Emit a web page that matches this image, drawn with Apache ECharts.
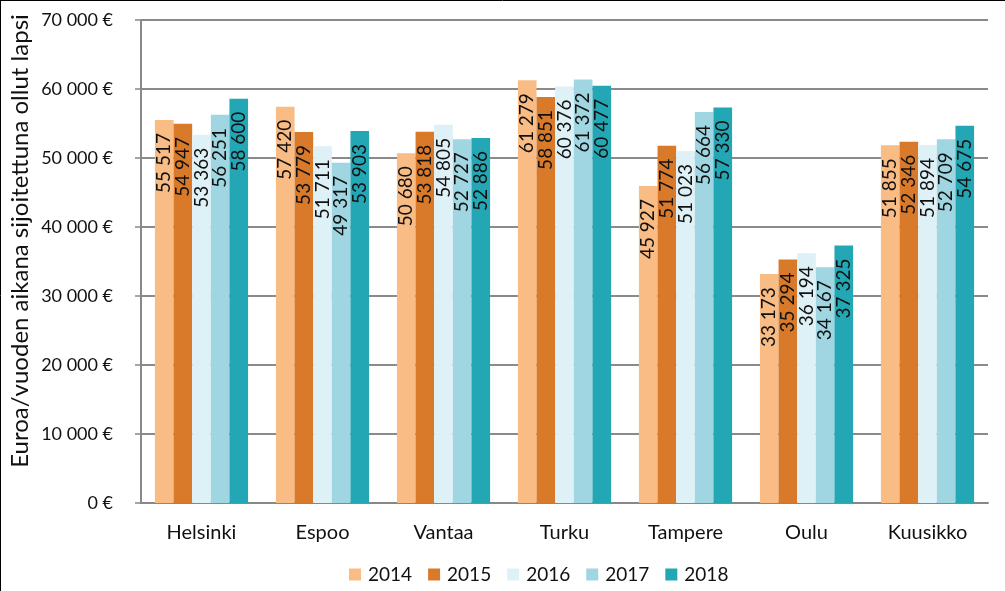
<!DOCTYPE html>
<html>
<head>
<meta charset="utf-8">
<script src="https://cdn.jsdelivr.net/npm/echarts@6/dist/echarts.min.js"></script>
<style>
html,body{margin:0;padding:0;background:#fff;}
#chart{width:1005px;height:591px;}
</style>
</head>
<body>
<div id="chart"></div>
<script>
const categories = ['Helsinki', 'Espoo', 'Vantaa', 'Turku', 'Tampere', 'Oulu', 'Kuusikko'];
const years = ['2014', '2015', '2016', '2017', '2018'];
const v2014 = [55517, 57420, 50680, 61279, 45927, 33173, 51855];
const v2015 = [54947, 53779, 53818, 58851, 51774, 35294, 52346];
const v2016 = [53363, 51711, 54805, 60376, 51023, 36194, 51894];
const v2017 = [56251, 49317, 52727, 61372, 56664, 34167, 52709];
const v2018 = [58600, 53903, 52886, 60477, 57330, 37325, 54675];
const yTicks = [0, 10000, 20000, 30000, 40000, 50000, 60000, 70000];
const yAxisTitle = 'Euroa/vuoden aikana sijoitettuna ollut lapsi';

const seriesValues = [v2014, v2015, v2016, v2017, v2018];
const colors = ['#F9BC84', '#D97A2B', '#DEF1F6', '#A0D6E1', '#24A7B5'];

function fmt(n) {
  return String(n).replace(/\B(?=(\d{3})+(?!\d))/g, ' ');
}

const FONT = 'Lato, "Open Sans", sans-serif';
const chart = echarts.init(document.getElementById('chart'));
chart.setOption({
  animation: false,
  backgroundColor: '#fff',
  textStyle: { fontFamily: FONT },
  grid: { left: 141, right: 17, top: 20, bottom: 88, containLabel: false },
  legend: {
    data: years,
    left: 344,
    top: 560,
    itemWidth: 12,
    itemHeight: 12,
    itemGap: 16,
    icon: 'rect',
    textStyle: { fontSize: 19, color: '#111', fontFamily: FONT, padding: [0, 0, 0, 2] }
  },
  xAxis: {
    type: 'category',
    data: categories,
    axisLine: { lineStyle: { color: '#888', width: 2 } },
    axisTick: { show: false },
    axisLabel: { fontSize: 20, color: '#111', margin: 20, fontFamily: FONT }
  },
  yAxis: {
    type: 'value',
    min: yTicks[0],
    max: yTicks[yTicks.length - 1],
    interval: 10000,
    axisLine: { show: true, lineStyle: { color: '#888', width: 2 } },
    axisTick: { show: true, length: 6, lineStyle: { color: '#888', width: 1.5 } },
    splitLine: { show: true, lineStyle: { color: '#8a8a8a', width: 2 } },
    axisLabel: {
      fontSize: 18, color: '#111', margin: 28, fontFamily: FONT,
      formatter: v => fmt(v) + ' €'
    }
  },
  graphic: [
    {
      type: 'text',
      x: 20, y: 241,
      rotation: Math.PI / 2,
      style: {
        text: yAxisTitle,
        fontSize: 24,
        fontFamily: FONT,
        fill: '#111',
        align: 'center',
        verticalAlign: 'middle'
      }
    },
    { type: 'line', shape: { x1: 0.5, y1: 0, x2: 0.5, y2: 591 }, style: { stroke: '#000', lineWidth: 1 } },
    { type: 'line', shape: { x1: 0, y1: 0.5, x2: 1005, y2: 0.5 }, style: { stroke: '#000', lineWidth: 1 } }
  ],
  series: years.map((y, i) => ({
    name: y,
    type: 'bar',
    data: seriesValues[i],
    barGap: '0%',
    barCategoryGap: '23%',
    itemStyle: { color: colors[i] },
    label: {
      show: true,
      position: 'insideTop',
      rotate: 90,
      align: 'right',
      verticalAlign: 'middle',
      distance: 13,
      fontSize: 19,
      color: '#111',
      fontFamily: FONT,
      formatter: p => fmt(p.value)
    },
    z: 2
  }))
});
</script>
</body>
</html>
